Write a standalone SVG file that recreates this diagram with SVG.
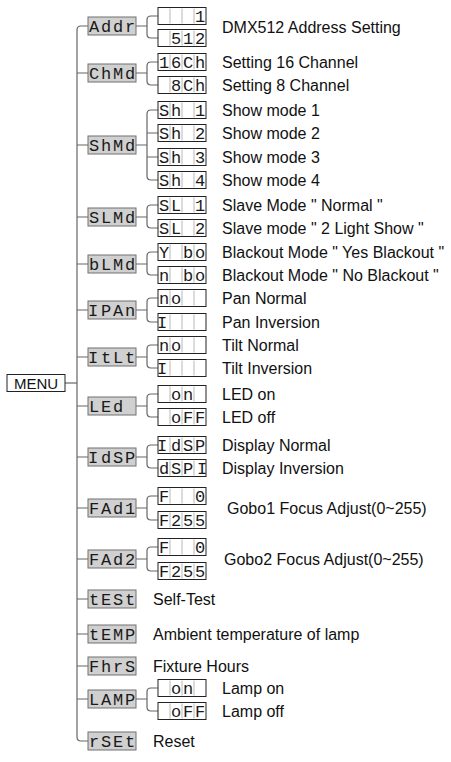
<svg xmlns="http://www.w3.org/2000/svg" width="451" height="762" viewBox="0 0 451 762">
<style>
.bg{fill:#fff}
.nb{fill:#d0d0d0;stroke:#707070;stroke-width:1}
.cb{fill:#fff;stroke:#222;stroke-width:1}
.dv{stroke:#b8b8b8;stroke-width:1}
.seg{font-family:"Liberation Mono","DejaVu Sans Mono",monospace;font-size:17px;fill:#1a1a1a;text-anchor:middle}
.lb{font-family:"Liberation Sans",Arial,sans-serif;font-size:16px;fill:#111}
.mn{font-family:"Liberation Sans",Arial,sans-serif;font-size:15px;fill:#111;text-anchor:middle}
.ln{fill:none;stroke:#666;stroke-width:1.2}
</style>
<defs>
<g id="cbox"><rect class="cb" x="0" y="0" width="48" height="17"/><path class="dv" d="M12,1V16M24,1V16M36,1V16"/></g>
</defs>
<rect class="bg" x="0" y="0" width="451" height="762"/>
<g id="connectors">
<path class="ln" d="M88,26H81Q77,26 77,30V737Q77,741 81,741H88"/>
<path class="ln" d="M65,383H77"/>
<path class="ln" d="M77,73H88M77,145H88M77,217H88M77,264H88M77,310H88M77,357H88M77,406H88M77,457H88M77,508H88M77,559H88M77,599H88M77,634H88M77,666H88M77,699H88"/>
<path class="ln" d="M136,26H147M158,16H151Q147,16 147,20V34Q147,38 151,38H158"/>
<path class="ln" d="M136,73H147M158,62H151Q147,62 147,66V81Q147,85 151,85H158"/>
<path class="ln" d="M136,145H147M158,110H151Q147,110 147,114V176Q147,180 151,180H158M147,133H158M147,157H158"/>
<path class="ln" d="M136,217H147M158,205H151Q147,205 147,209V224Q147,228 151,228H158"/>
<path class="ln" d="M136,264H147M158,252H151Q147,252 147,256V271Q147,275 151,275H158"/>
<path class="ln" d="M136,310H147M158,298H151Q147,298 147,302V318Q147,322 151,322H158"/>
<path class="ln" d="M136,357H147M158,345H151Q147,345 147,349V364Q147,368 151,368H158"/>
<path class="ln" d="M136,406H147M158,394H151Q147,394 147,398V413Q147,417 151,417H158"/>
<path class="ln" d="M136,457H147M158,445H151Q147,445 147,449V464Q147,468 151,468H158"/>
<path class="ln" d="M136,508H147M158,496H151Q147,496 147,500V516Q147,520 151,520H158"/>
<path class="ln" d="M136,559H147M158,547H151Q147,547 147,551V567Q147,571 151,571H158"/>
<path class="ln" d="M136,699H147M158,688H151Q147,688 147,692V707Q147,711 151,711H158"/>
</g>
<g id="menu"><rect x="7" y="374.5" width="58" height="17" fill="#fff" stroke="#222"/><text class="mn" x="36" y="389">MENU</text></g>
<g id="addr">
<rect class="nb" x="88" y="17" width="48" height="18"/><text class="seg" x="94 106 118 130" y="32">Addr</text>
<use href="#cbox" x="158" y="7.5"/><text class="seg" x="200" y="22">1</text>
<use href="#cbox" x="158" y="29.5"/><text class="seg" x="176 188 200" y="44">512</text>
<text class="lb" x="222" y="33">DMX512 Address Setting</text>
</g>
<g id="chmd">
<rect class="nb" x="88" y="64" width="48" height="18"/><text class="seg" x="94 106 118 130" y="79">ChMd</text>
<use href="#cbox" x="158" y="53.5"/><text class="seg" x="164 176 188 200" y="68">16Ch</text>
<use href="#cbox" x="158" y="76.5"/><text class="seg" x="176 188 200" y="91">8Ch</text>
<text class="lb" x="222" y="67.5">Setting 16 Channel</text>
<text class="lb" x="222" y="90.5">Setting 8 Channel</text>
</g>
<g id="shmd">
<rect class="nb" x="88" y="136" width="48" height="18"/><text class="seg" x="94 106 118 130" y="151">ShMd</text>
<use href="#cbox" x="158" y="101.5"/><text class="seg" x="164 176 188 200" y="116">Sh 1</text>
<use href="#cbox" x="158" y="124.5"/><text class="seg" x="164 176 188 200" y="139">Sh 2</text>
<use href="#cbox" x="158" y="148.5"/><text class="seg" x="164 176 188 200" y="163">Sh 3</text>
<use href="#cbox" x="158" y="171.5"/><text class="seg" x="164 176 188 200" y="186">Sh 4</text>
<text class="lb" x="222" y="115.5">Show mode 1</text>
<text class="lb" x="222" y="138.5">Show mode 2</text>
<text class="lb" x="222" y="162.5">Show mode 3</text>
<text class="lb" x="222" y="185.5">Show mode 4</text>
</g>
<g id="slmd">
<rect class="nb" x="88" y="208" width="48" height="18"/><text class="seg" x="94 106 118 130" y="223">SLMd</text>
<use href="#cbox" x="158" y="196.5"/><text class="seg" x="164 176 188 200" y="211">SL 1</text>
<use href="#cbox" x="158" y="219.5"/><text class="seg" x="164 176 188 200" y="234">SL 2</text>
<text class="lb" x="222" y="210.5">Slave Mode " Normal "</text>
<text class="lb" x="222" y="233.5">Slave mode " 2 Light Show "</text>
</g>
<g id="blmd">
<rect class="nb" x="88" y="255" width="48" height="18"/><text class="seg" x="94 106 118 130" y="270">bLMd</text>
<use href="#cbox" x="158" y="243.5"/><text class="seg" x="164 176 188 200" y="258">Y bo</text>
<use href="#cbox" x="158" y="266.5"/><text class="seg" x="164 176 188 200" y="281">n bo</text>
<text class="lb" x="222" y="257.5">Blackout Mode " Yes Blackout "</text>
<text class="lb" x="222" y="280.5">Blackout Mode " No Blackout "</text>
</g>
<g id="ipan">
<rect class="nb" x="88" y="301" width="48" height="18"/><text class="seg" x="93 106 118 130" y="316">IPAn</text>
<use href="#cbox" x="158" y="289.5"/><text class="seg" x="164 176" y="304">no</text>
<use href="#cbox" x="158" y="313.5"/><text class="seg" x="162" y="328">I</text>
<text class="lb" x="222" y="303.5">Pan Normal</text>
<text class="lb" x="222" y="327.5">Pan Inversion</text>
</g>
<g id="itlt">
<rect class="nb" x="88" y="348" width="48" height="18"/><text class="seg" x="93 106 118 130" y="363">ItLt</text>
<use href="#cbox" x="158" y="336.5"/><text class="seg" x="164 176" y="351">no</text>
<use href="#cbox" x="158" y="359.5"/><text class="seg" x="162" y="374">I</text>
<text class="lb" x="222" y="350.5">Tilt Normal</text>
<text class="lb" x="222" y="373.5">Tilt Inversion</text>
</g>
<g id="led">
<rect class="nb" x="88" y="397" width="48" height="18"/><text class="seg" x="94 106 118" y="412">LEd</text>
<use href="#cbox" x="158" y="385.5"/><text class="seg" x="176 188" y="400">on</text>
<use href="#cbox" x="158" y="408.5"/><text class="seg" x="176 188 200" y="423">oFF</text>
<text class="lb" x="222" y="399.5">LED on</text>
<text class="lb" x="222" y="422.5">LED off</text>
</g>
<g id="idsp">
<rect class="nb" x="88" y="448" width="48" height="18"/><text class="seg" x="93 106 118 130" y="463">IdSP</text>
<use href="#cbox" x="158" y="436.5"/><text class="seg" x="162 176 188 200" y="451">IdSP</text>
<use href="#cbox" x="158" y="459.5"/><text class="seg" x="164 176 188 202" y="474">dSPI</text>
<text class="lb" x="222" y="450.5">Display Normal</text>
<text class="lb" x="222" y="473.5">Display Inversion</text>
</g>
<g id="fad1">
<rect class="nb" x="88" y="499" width="48" height="18"/><text class="seg" x="94 106 118 130" y="514">FAd1</text>
<use href="#cbox" x="158" y="487.5"/><text class="seg" x="164 200" y="502">F0</text>
<use href="#cbox" x="158" y="511.5"/><text class="seg" x="164 176 188 200" y="526">F255</text>
<text class="lb" x="227" y="513.5">Gobo1 Focus Adjust(0~255)</text>
</g>
<g id="fad2">
<rect class="nb" x="88" y="550" width="48" height="18"/><text class="seg" x="94 106 118 130" y="565">FAd2</text>
<use href="#cbox" x="158" y="538.5"/><text class="seg" x="164 200" y="553">F0</text>
<use href="#cbox" x="158" y="562.5"/><text class="seg" x="164 176 188 200" y="577">F255</text>
<text class="lb" x="224" y="564.5">Gobo2 Focus Adjust(0~255)</text>
</g>
<g id="test">
<rect class="nb" x="88" y="590" width="48" height="18"/><text class="seg" x="94 106 118 130" y="605">tESt</text>
<text class="lb" x="153" y="604.5">Self-Test</text>
</g>
<g id="temp">
<rect class="nb" x="88" y="625" width="48" height="18"/><text class="seg" x="94 106 118 130" y="640">tEMP</text>
<text class="lb" x="153" y="639.5">Ambient temperature of lamp</text>
</g>
<g id="fhrs">
<rect class="nb" x="88" y="657" width="48" height="18"/><text class="seg" x="94 106 118 130" y="672">FhrS</text>
<text class="lb" x="153" y="671.5">Fixture Hours</text>
</g>
<g id="lamp">
<rect class="nb" x="88" y="690" width="48" height="18"/><text class="seg" x="94 106 118 130" y="705">LAMP</text>
<use href="#cbox" x="158" y="679.5"/><text class="seg" x="176 188" y="694">on</text>
<use href="#cbox" x="158" y="702.5"/><text class="seg" x="176 188 200" y="717">oFF</text>
<text class="lb" x="222" y="693.5">Lamp on</text>
<text class="lb" x="222" y="716.5">Lamp off</text>
</g>
<g id="rset">
<rect class="nb" x="88" y="732" width="48" height="18"/><text class="seg" x="94 106 118 130" y="747">rSEt</text>
<text class="lb" x="153" y="746.5">Reset</text>
</g>
</svg>
